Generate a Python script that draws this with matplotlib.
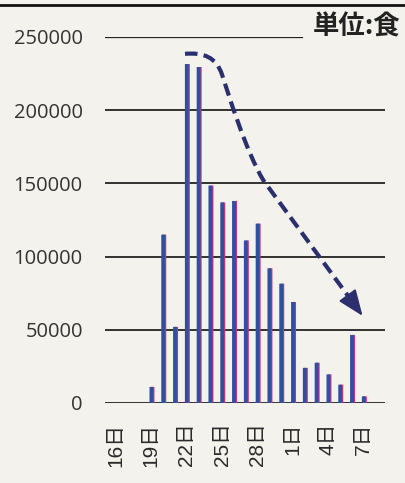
import matplotlib.pyplot as plt
import matplotlib.lines as mlines
from matplotlib.path import Path
from matplotlib.patches import FancyArrowPatch, PathPatch
import numpy as np

# days shown on the x axis (16th of one month to 7th of the next, 30-day month)
days = [16, 17, 18, 19, 20, 21, 22, 23, 24, 25, 26, 27, 28, 29, 30,
        1, 2, 3, 4, 5, 6, 7]
tick_days = [16, 19, 22, 25, 28, 1, 4, 7]
# meals per day, None = no bar
meals = [None, None, None, 11000, 115000, 52000, 231500, 229500, 148500,
         137000, 138000, 111000, 122500, 92000, 81500, 69000,
         24000, 27500, 19500, 12500, 46500, 4500]
yticks = [0, 50000, 100000, 150000, 200000, 250000]

# trend arrow path (day index, value): start, curve, bend, tip
arrow_pts = [(5.85, 238500), (7.4, 239500), (8.5, 236500), (9.0, 224000),
             (9.45, 213000), (11.0, 172000), (12.5, 152000), (20.9, 59500)]
arrow_codes = [Path.MOVETO, Path.CURVE4, Path.CURVE4, Path.CURVE4,
               Path.CURVE4, Path.CURVE4, Path.CURVE4, Path.LINETO]

paper = '#f4f2ed'
navy = '#2c2f6e'
fig = plt.figure(figsize=(4.05, 4.83), dpi=100, facecolor=paper)
ax = fig.add_axes([105 / 405, 80 / 483, 280 / 405, 366 / 483])
ax.set_facecolor(paper)

idx = np.arange(len(days))
vals = np.array([v if v is not None else 0 for v in meals], dtype=float)
has = np.array([v is not None for v in meals])

# print misregistration: magenta shadow then blue bar
ax.bar(idx[has] + 0.1, vals[has], width=0.32, color='#c2357e', zorder=2, snap=False)
ax.bar(idx[has], vals[has], width=0.32, color='#2d50a0', zorder=3, snap=False)

for y in yticks:
    xmax = 1.0 if y != 250000 else 0.705
    ax.axhline(y, xmin=0, xmax=xmax, color='#222222',
               lw=1.3 if y != 250000 else 0.9, zorder=1)

ax.set_xlim(-0.93, 22.8)
ax.set_ylim(0, 250000)
for s in ax.spines.values():
    s.set_visible(False)

ax.set_yticks(yticks)
ax.set_yticklabels([str(y) for y in yticks], fontsize=14.5, color='#333333',
                   family='Open Sans')
ax.tick_params(axis='y', length=0, pad=16)

ax.set_xticks([days.index(d) for d in tick_days])
ax.set_xticklabels([f'{d}日' for d in tick_days], rotation=90, fontsize=15,
                   color='#2a2a2a', family=['Liberation Sans', 'Noto Sans CJK JP'])
ax.tick_params(axis='x', length=0, pad=14)

# dashed trend line, solid head on the end
ax.add_patch(PathPatch(Path(arrow_pts[:-1] + [(20.3, 66200)], arrow_codes),
                       fill=False, lw=3, ls=(0, (3, 1.5)), edgecolor=navy,
                       capstyle='butt', zorder=4))
(x0, y0), (x1, y1) = arrow_pts[-2], arrow_pts[-1]
ax.add_patch(FancyArrowPatch((x1 - 0.1 * (x1 - x0), y1 - 0.1 * (y1 - y0)), (x1, y1),
                             arrowstyle='-|>,head_length=0.8,head_width=0.32',
                             mutation_scale=20, lw=1.5, color=navy,
                             shrinkA=0, shrinkB=0, zorder=5))

fig.text(400 / 405, 1 - 27 / 483, '単位:食', ha='right', va='center',
         fontsize=19, fontweight='bold', color='#222222',
         family=['Noto Sans CJK JP', 'DejaVu Sans'])
fig.add_artist(mlines.Line2D([0, 1], [1 - 5 / 483, 1 - 5 / 483],
                             color='#111111', lw=2))

fig.savefig('out.png', dpi=100, facecolor=paper)
